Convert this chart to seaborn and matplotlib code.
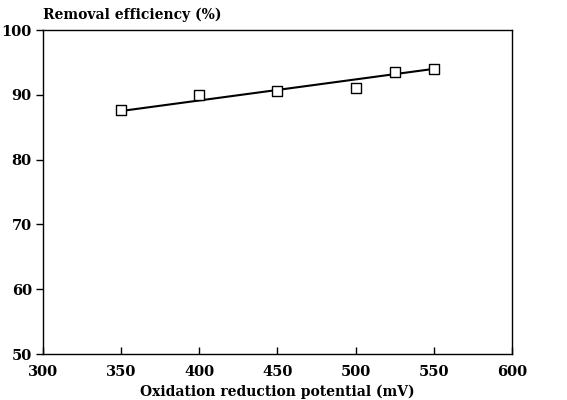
import matplotlib
matplotlib.use("Agg")
import matplotlib.pyplot as plt
import seaborn as sns
import pandas as pd

orp = [350, 400, 450, 500, 525, 550]
efficiency = [87.6, 90.0, 90.6, 91.0, 93.5, 94.0]
fit_x = [350, 550]
fit_y = [87.5, 94.0]
x_ticks = [300, 350, 400, 450, 500, 550, 600]
y_ticks = [50, 60, 70, 80, 90, 100]

sns.set_theme(style="ticks")
plt.rcParams['font.family'] = ['DejaVu Serif']
plt.rcParams['text.color'] = 'black'
plt.rcParams['xtick.color'] = 'black'
plt.rcParams['ytick.color'] = 'black'
plt.rcParams['axes.labelcolor'] = 'black'

fig = plt.figure(figsize=(5.67, 4.0), dpi=100)
ax = fig.add_axes([0.0758, 0.115, 0.827, 0.81])

df = pd.DataFrame({"x": orp, "y": efficiency})
fit = pd.DataFrame({"x": fit_x, "y": fit_y})
sns.lineplot(data=fit, x="x", y="y", ax=ax, color="black", linewidth=1.5)
sns.scatterplot(data=df, x="x", y="y", ax=ax, marker="s", s=55,
                facecolor="white", edgecolor="black", linewidth=1.0, zorder=3)

ax.set_xlim(300, 600)
ax.set_ylim(50, 100)
ax.set_xticks(x_ticks)
ax.set_yticks(y_ticks)
for lbl in ax.get_xticklabels() + ax.get_yticklabels():
    lbl.set_fontweight("bold")
    lbl.set_fontsize(10.5)
ax.tick_params(axis="x", direction="in", length=5, width=1, pad=8)
ax.tick_params(axis="y", direction="out", length=5, width=1, pad=3)
for s in ax.spines.values():
    s.set_linewidth(1.0)
    s.set_color("black")
ax.set_xlabel("Oxidation reduction potential (mV)", fontweight="bold", fontsize=10,
              labelpad=4)
ax.set_ylabel("")
fig.text(0.0758, 0.962, "Removal efficiency (%)", fontweight="bold", fontsize=10,
         ha="left", va="center")

fig.savefig("out.png", dpi=100)
